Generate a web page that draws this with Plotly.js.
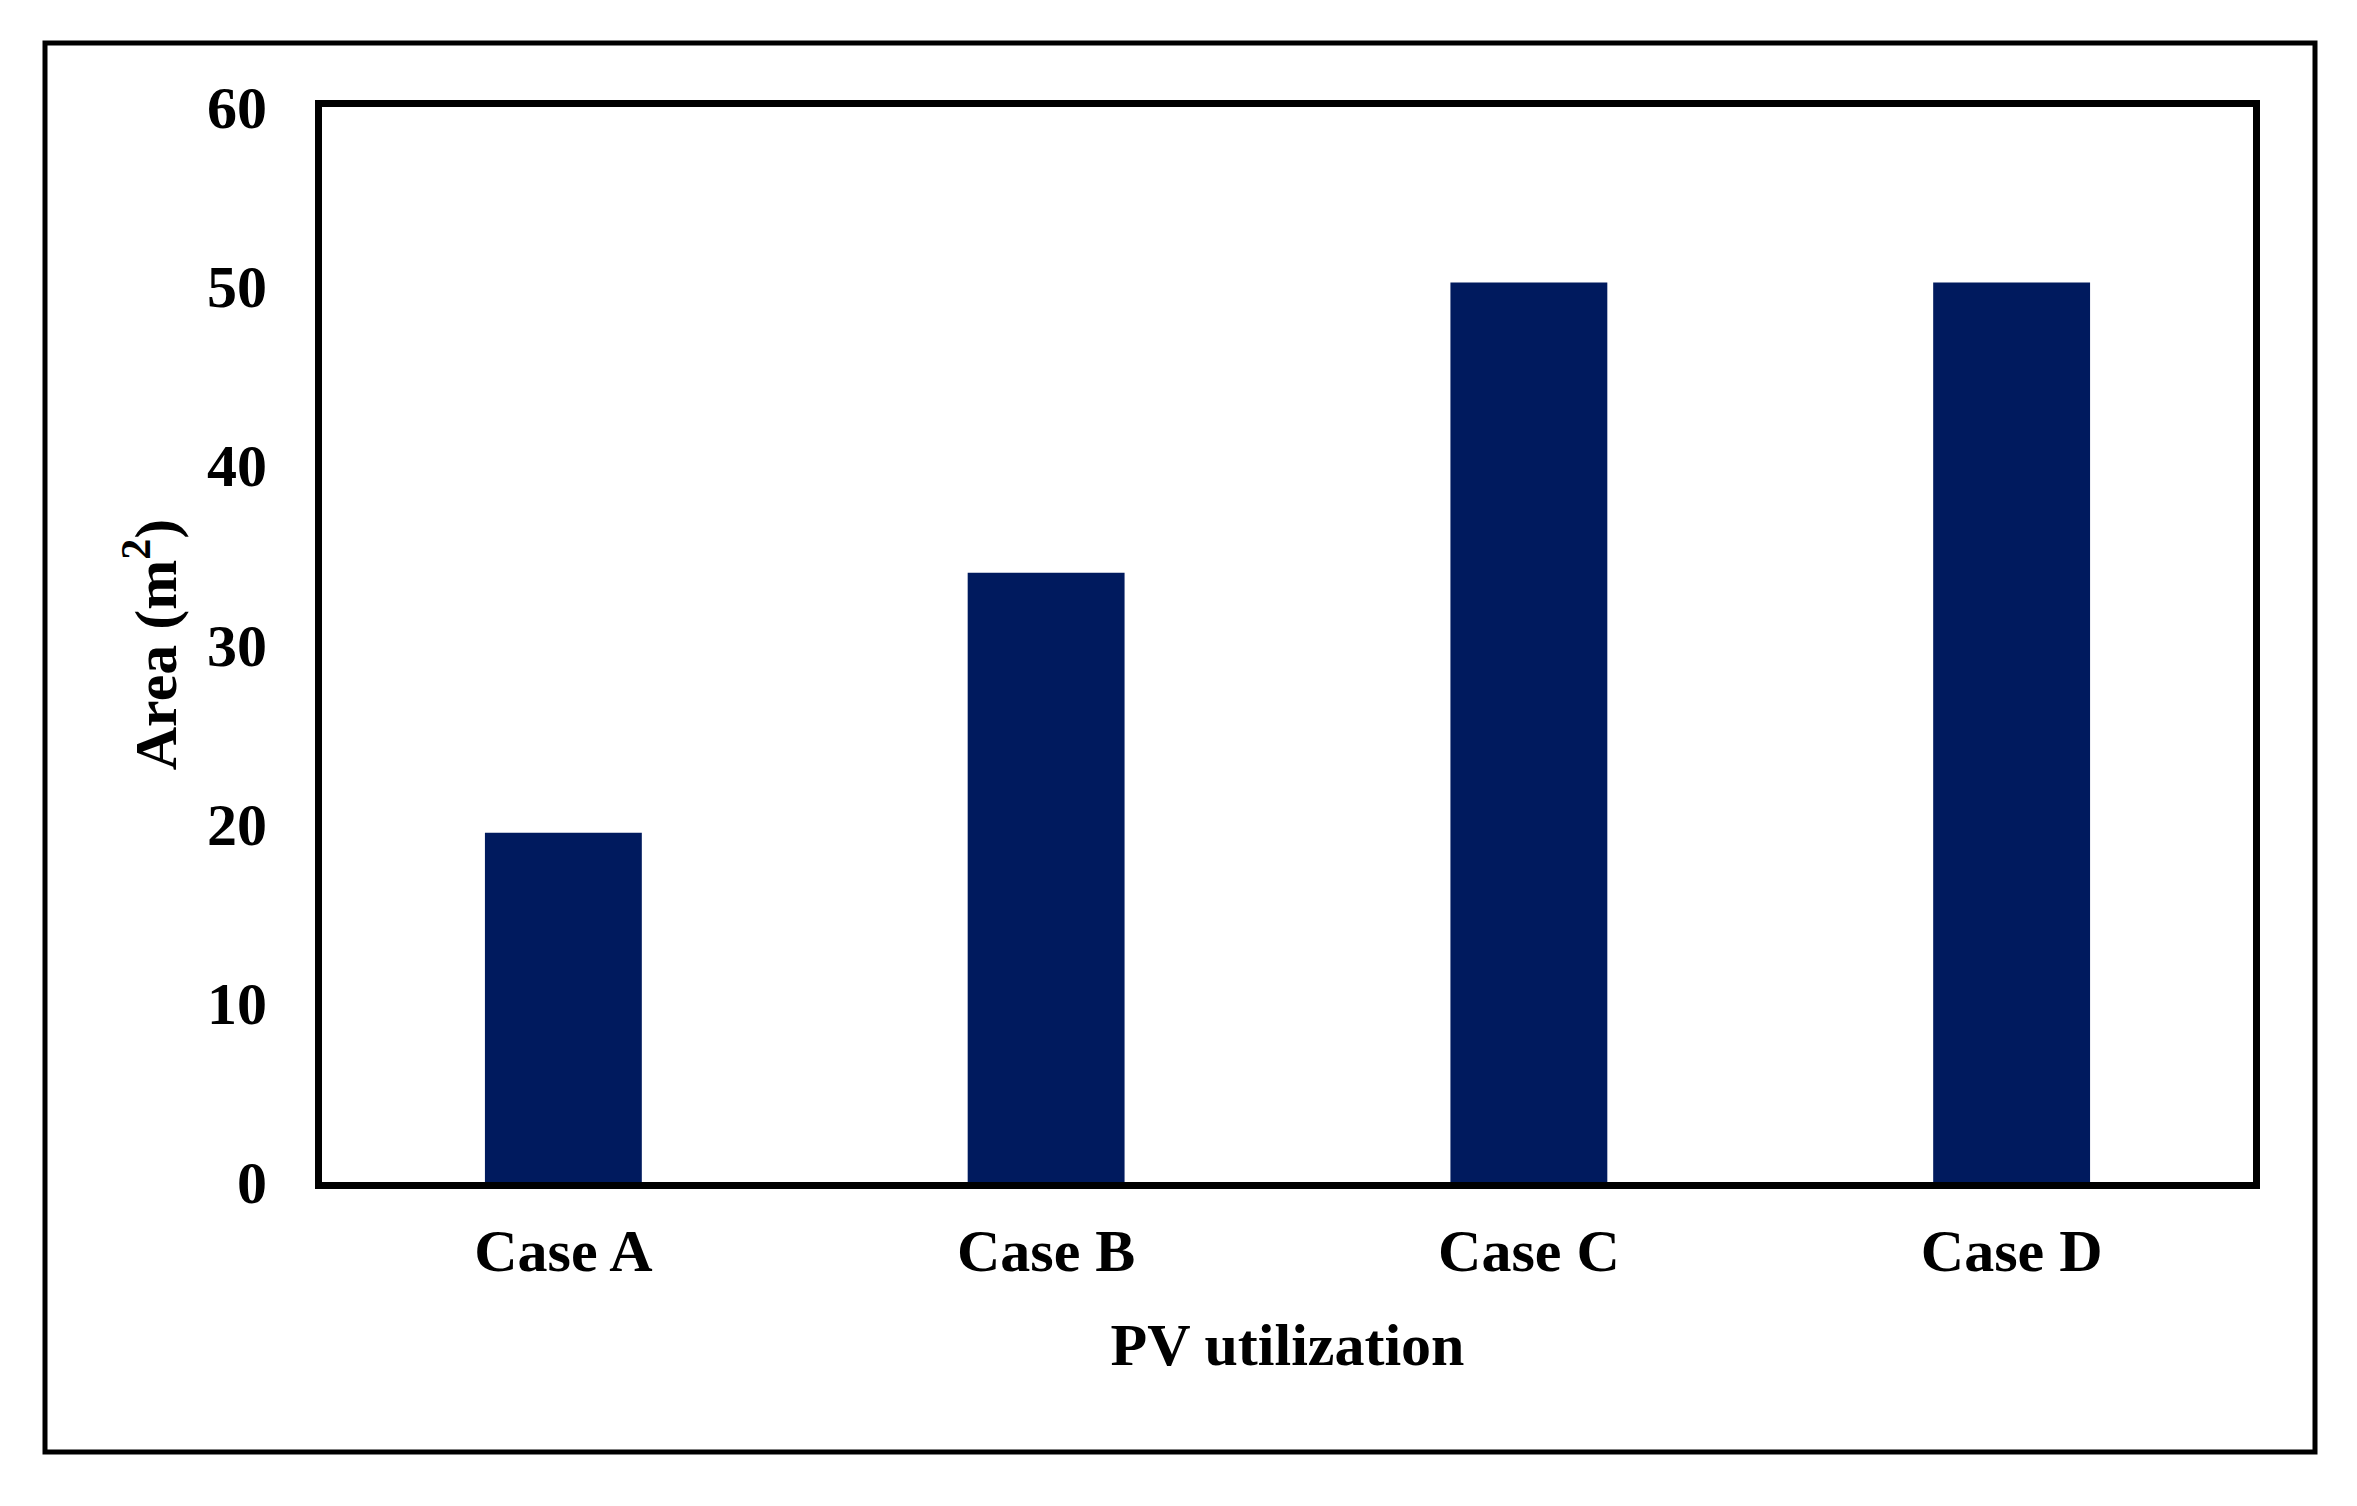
<!DOCTYPE html>
<html>
<head>
<meta charset="utf-8">
<script src="https://cdn.plot.ly/plotly-3.0.1.min.js"></script>
<style>
  body { margin: 0; background: #ffffff; }
  #chart { width: 2357px; height: 1506px; }
</style>
</head>
<body>
<div id="chart"></div>
<script>
// data
const cases = ["Case A", "Case B", "Case C", "Case D"]
const area = [19.5, 34.0, 50.2, 50.2]
const y_ticks = [0, 10, 20, 30, 40, 50, 60]

const W = 2357
const H = 1506
const margin = { l: 322, r: W - 2253, t: 107, b: H - 1182 }
const plot_w = W - margin.l - margin.r
const plot_h = H - margin.t - margin.b

// outer frame in paper coords
function px_x(x) { return (x - margin.l) / plot_w }
function px_y(y) { return (H - margin.b - y) / plot_h }

const font_main = { family: "Liberation Serif, Times New Roman, serif", size: 60, color: "#000000" }

const data = [{
    type: 'bar',
    x: cases,
    y: area,
    marker: { color: '#001a5e', line: { width: 0 } },
    hoverinfo: 'x+y',
}]

const layout = {
    width: W,
    height: H,
    margin: margin,
    paper_bgcolor: '#ffffff',
    plot_bgcolor: '#ffffff',
    bargap: 0.675,
    showlegend: false,
    font: font_main,
    xaxis: {
        type: 'category',
        showline: true,
        linecolor: '#000000',
        linewidth: 7,
        mirror: true,
        ticks: '',
        ticklabelstandoff: 10,
        tickfont: { family: font_main.family, size: 60, weight: 'bold' },
        showgrid: false,
        zeroline: false,
        title: { text: "PV utilization", font: { family: font_main.family, size: 60, weight: 'bold' }, standoff: 42 },
        automargin: false,
    },
    yaxis: {
        range: [0, 60],
        tickvals: y_ticks,
        showline: true,
        linecolor: '#000000',
        linewidth: 7,
        mirror: true,
        ticks: '',
        ticklabelstandoff: 36,
        tickfont: { family: font_main.family, size: 60, weight: 'bold' },
        showgrid: false,
        zeroline: false,
        title: { text: "Area (m<sup>2</sup>)", font: { family: font_main.family, size: 60, weight: 'bold' }, standoff: 14 },
        automargin: false,
    },
    shapes: [{
        type: 'rect',
        xref: 'paper',
        yref: 'paper',
        x0: px_x(45),
        x1: px_x(2315),
        y0: px_y(1452),
        y1: px_y(43),
        line: { color: '#000000', width: 5 },
        fillcolor: 'rgba(0,0,0,0)',
        layer: 'below',
    }],
}

Plotly.newPlot("chart", data, layout, { displayModeBar: false, staticPlot: true })
</script>
</body>
</html>
